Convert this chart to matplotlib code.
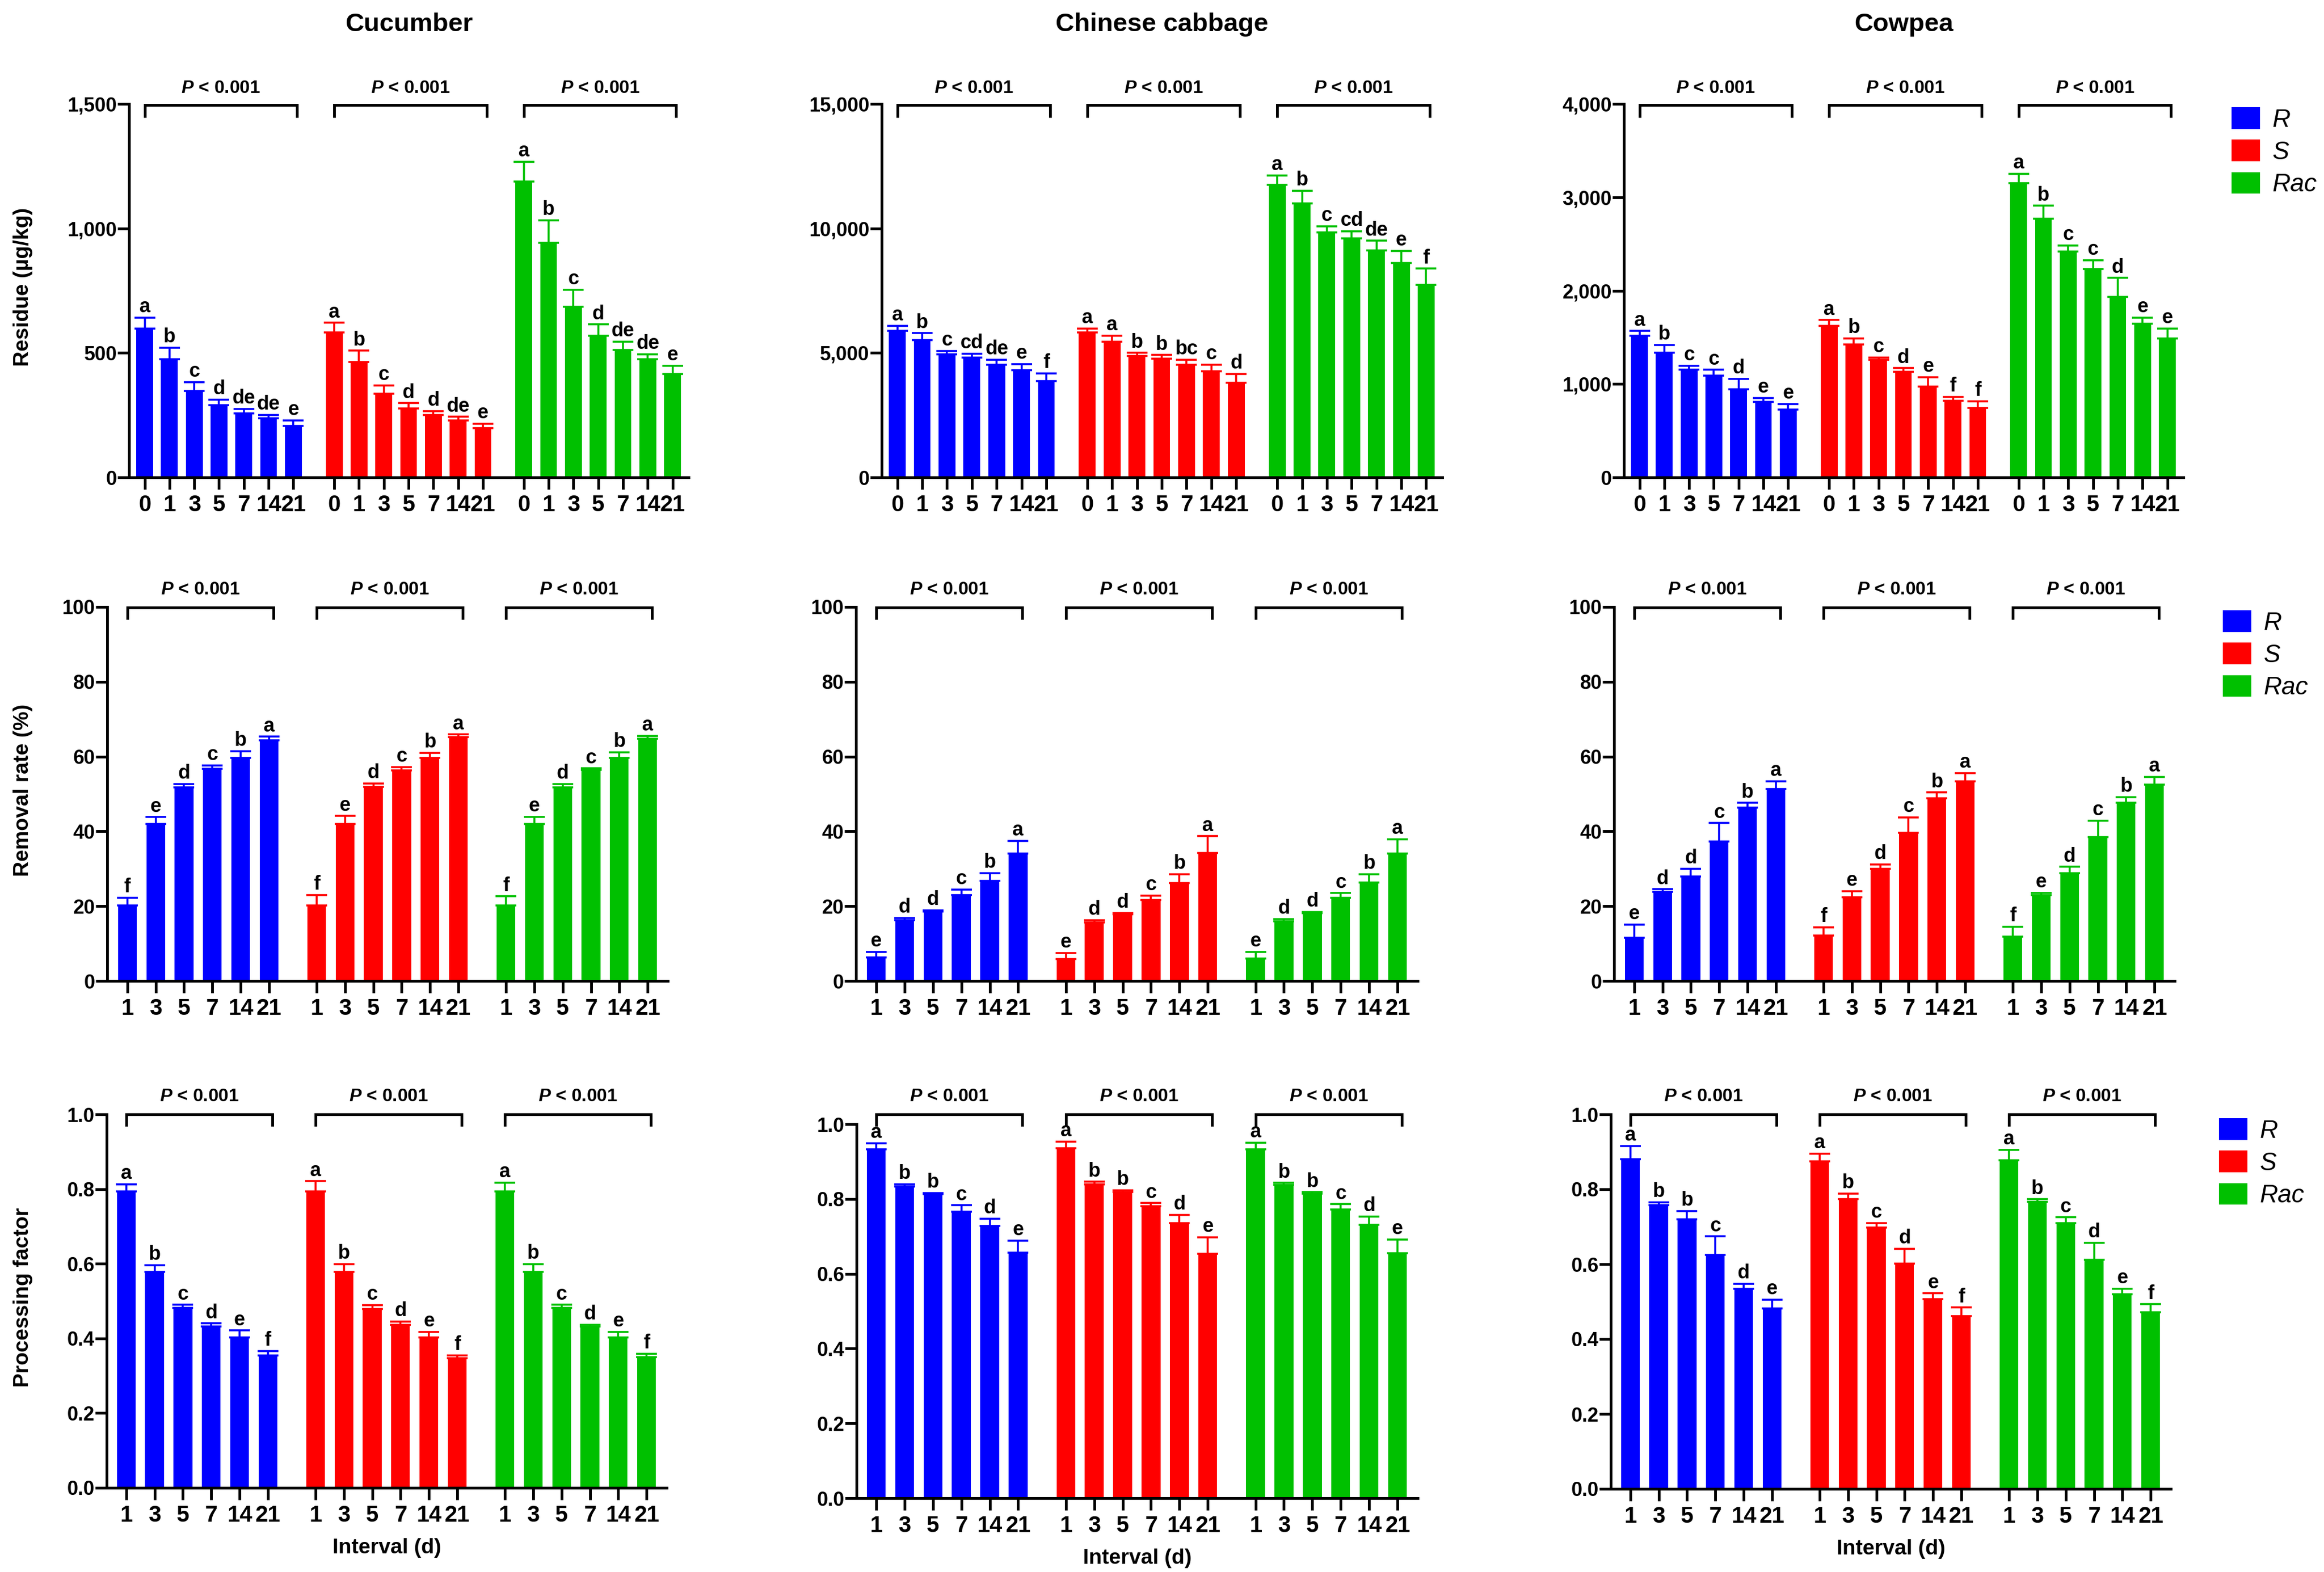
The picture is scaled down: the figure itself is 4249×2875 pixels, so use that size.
import numpy as np
import matplotlib
matplotlib.use('Agg')
import matplotlib.pyplot as plt
from matplotlib import font_manager as fm
import matplotlib.transforms as mtransforms
from matplotlib.ticker import FuncFormatter

# ---------------- data ----------------
isomers = ['R', 'S', 'Rac']
colors = ['#0000FF', '#FF0000', '#00C000']
days_residue = ['0', '1', '3', '5', '7', '14', '21']
days_interval = ['1', '3', '5', '7', '14', '21']
crops = ['Cucumber', 'Chinese cabbage', 'Cowpea']

# Residue (ug/kg)
cuc_res_mean = {'R': [598, 475, 346, 289, 257, 237, 207],
                'S': [581, 463, 335, 277, 250, 229, 198],
                'Rac': [1189, 943, 685, 569, 512, 475, 415]}
cuc_res_err = {'R': [43, 46, 37, 23, 18, 13, 22],
               'S': [40, 46, 35, 21, 16, 14, 17],
               'Rac': [78, 90, 68, 45, 33, 20, 33]}
cuc_res_let = {'R': ['a', 'b', 'c', 'd', 'de', 'de', 'e'],
               'S': ['a', 'b', 'c', 'd', 'd', 'de', 'e'],
               'Rac': ['a', 'b', 'c', 'd', 'de', 'de', 'e']}

cab_res_mean = {'R': [5890, 5520, 4950, 4810, 4520, 4300, 3860],
                'S': [5810, 5450, 4880, 4760, 4520, 4260, 3790],
                'Rac': [11760, 11010, 9840, 9600, 9110, 8620, 7740]}
cab_res_err = {'R': [200, 270, 130, 150, 200, 250, 320],
               'S': [170, 240, 120, 150, 200, 270, 360],
               'Rac': [370, 500, 240, 290, 390, 480, 640]}
cab_res_let = {'R': ['a', 'b', 'c', 'cd', 'de', 'e', 'f'],
               'S': ['a', 'a', 'b', 'b', 'bc', 'c', 'd'],
               'Rac': ['a', 'b', 'c', 'cd', 'de', 'e', 'f']}

cow_res_mean = {'R': [1518, 1337, 1152, 1092, 940, 809, 727],
                'S': [1624, 1426, 1259, 1131, 975, 819, 745],
                'Rac': [3149, 2773, 2418, 2234, 1933, 1645, 1489]}
cow_res_err = {'R': [50, 82, 43, 60, 113, 43, 60],
               'S': [60, 64, 25, 39, 99, 43, 71],
               'Rac': [103, 135, 64, 92, 202, 64, 106]}
cow_res_let = {'R': ['a', 'b', 'c', 'c', 'd', 'e', 'e'],
               'S': ['a', 'b', 'c', 'd', 'e', 'f', 'f'],
               'Rac': ['a', 'b', 'c', 'c', 'd', 'e', 'e']}

# Removal rate (%)
cuc_rem_mean = {'R': [20.2, 42.0, 51.7, 56.7, 59.6, 64.3],
                'S': [20.2, 42.0, 51.9, 56.3, 59.6, 65.2],
                'Rac': [20.2, 42.0, 51.7, 56.4, 59.6, 64.8]}
cuc_rem_err = {'R': [2.0, 1.8, 0.9, 0.9, 1.8, 1.0],
               'S': [2.8, 2.1, 0.9, 0.9, 1.4, 0.7],
               'Rac': [2.4, 1.9, 0.9, 0.4, 1.5, 0.7]}
cuc_rem_let = {'R': ['f', 'e', 'd', 'c', 'b', 'a'],
               'S': ['f', 'e', 'd', 'c', 'b', 'a'],
               'Rac': ['f', 'e', 'd', 'c', 'b', 'a']}

cab_rem_mean = {'R': [6.3, 16.2, 18.6, 22.9, 26.8, 34.1],
                'S': [5.8, 15.7, 17.9, 21.6, 26.1, 34.2],
                'Rac': [6.0, 15.9, 18.1, 22.2, 26.3, 34.1]}
cab_rem_err = {'R': [1.5, 0.6, 0.3, 1.5, 2.0, 3.4],
               'S': [1.7, 0.6, 0.3, 1.2, 2.4, 4.5],
               'Rac': [1.8, 0.6, 0.3, 1.3, 2.2, 3.8]}
cab_rem_let = {'R': ['e', 'd', 'd', 'c', 'b', 'a'],
               'S': ['e', 'd', 'd', 'c', 'b', 'a'],
               'Rac': ['e', 'd', 'd', 'c', 'b', 'a']}

cow_rem_mean = {'R': [11.6, 23.8, 27.9, 37.3, 46.3, 51.3],
                'S': [12.2, 22.3, 30.0, 39.6, 48.9, 53.4],
                'Rac': [11.8, 23.0, 28.8, 38.4, 47.6, 52.5]}
cow_rem_err = {'R': [3.5, 0.7, 2.1, 4.9, 1.3, 2.1],
               'S': [2.1, 1.7, 1.2, 4.1, 1.5, 2.2],
               'Rac': [2.7, 0.6, 1.7, 4.5, 1.5, 2.1]}
cow_rem_let = {'R': ['e', 'd', 'd', 'c', 'b', 'a'],
               'S': ['f', 'e', 'd', 'c', 'b', 'a'],
               'Rac': ['f', 'e', 'd', 'c', 'b', 'a']}

# Processing factor
cuc_pf_mean = {'R': [0.794, 0.578, 0.481, 0.432, 0.402, 0.355],
               'S': [0.794, 0.578, 0.479, 0.436, 0.402, 0.347],
               'Rac': [0.794, 0.578, 0.481, 0.432, 0.402, 0.350]}
cuc_pf_err = {'R': [0.019, 0.018, 0.009, 0.008, 0.019, 0.011],
              'S': [0.027, 0.021, 0.010, 0.009, 0.015, 0.008],
              'Rac': [0.023, 0.021, 0.009, 0.004, 0.016, 0.009]}
cuc_pf_let = {'R': ['a', 'b', 'c', 'd', 'e', 'f'],
              'S': ['a', 'b', 'c', 'd', 'e', 'f'],
              'Rac': ['a', 'b', 'c', 'd', 'e', 'f']}

cab_pf_mean = {'R': [0.933, 0.834, 0.813, 0.766, 0.728, 0.656],
               'S': [0.936, 0.839, 0.819, 0.780, 0.735, 0.653],
               'Rac': [0.933, 0.838, 0.815, 0.772, 0.731, 0.655]}
cab_pf_err = {'R': [0.016, 0.005, 0.003, 0.017, 0.019, 0.033],
              'S': [0.017, 0.007, 0.004, 0.009, 0.023, 0.045],
              'Rac': [0.017, 0.005, 0.003, 0.014, 0.022, 0.037]}
cab_pf_let = {'R': ['a', 'b', 'b', 'c', 'd', 'e'],
              'S': ['a', 'b', 'b', 'c', 'd', 'e'],
              'Rac': ['a', 'b', 'b', 'c', 'd', 'e']}

cow_pf_mean = {'R': [0.880, 0.758, 0.719, 0.625, 0.534, 0.482],
               'S': [0.874, 0.774, 0.698, 0.601, 0.507, 0.461],
               'Rac': [0.877, 0.766, 0.709, 0.611, 0.520, 0.471]}
cow_pf_err = {'R': [0.036, 0.007, 0.023, 0.049, 0.014, 0.023],
              'S': [0.021, 0.015, 0.012, 0.040, 0.015, 0.023],
              'Rac': [0.028, 0.007, 0.016, 0.046, 0.014, 0.022]}
cow_pf_let = {'R': ['a', 'b', 'b', 'c', 'd', 'e'],
              'S': ['a', 'b', 'c', 'd', 'e', 'f'],
              'Rac': ['a', 'b', 'c', 'd', 'e', 'f']}

residue_ticks = {'Cucumber': [0, 500, 1000, 1500],
                 'Chinese cabbage': [0, 5000, 10000, 15000],
                 'Cowpea': [0, 1000, 2000, 3000, 4000]}
removal_ticks = [0, 20, 40, 60, 80, 100]
pf_ticks = [0.0, 0.2, 0.4, 0.6, 0.8, 1.0]

# ---------------- fonts ----------------
names = {f.name for f in fm.fontManager.ttflist}
MAIN = 'Liberation Sans' if 'Liberation Sans' in names else 'DejaVu Sans'
NARROW = 'Liberation Sans Narrow' if 'Liberation Sans Narrow' in names else MAIN
plt.rcParams['font.family'] = [MAIN, 'DejaVu Sans']
plt.rcParams['font.weight'] = 'bold'
plt.rcParams['mathtext.fontset'] = 'custom'
plt.rcParams['mathtext.it'] = MAIN + ':italic:bold'
plt.rcParams['mathtext.rm'] = MAIN + ':bold'
plt.rcParams['mathtext.bf'] = MAIN + ':bold'

# ---------------- layout ----------------
W, H, DPI = 4249, 2875, 100
fig = plt.figure(figsize=(W / DPI, H / DPI), dpi=DPI)
fig.patch.set_facecolor('white')

axes_px = {
    (0, 0): (236, 190, 1259, 873), (0, 1): (1612, 190, 2637, 873), (0, 2): (2969, 190, 3992, 873),
    (1, 0): (196, 1110, 1221, 1794), (1, 1): (1565, 1110, 2592, 1794), (1, 2): (2951, 1110, 3976, 1794),
    (2, 0): (195, 2038, 1219, 2721), (2, 1): (1566, 2056, 2592, 2740), (2, 2): (2945, 2038, 3969, 2723),
}
bracket_px = {0: (192, 215, 162), 1: (1111, 1133, 1079), 2: (2038, 2060, 2006)}
legend_px = {0: (4080, 196), 1: (4064, 1116), 2: (4057, 2045)}

panels = {
    (0, 0): (cuc_res_mean, cuc_res_err, cuc_res_let),
    (0, 1): (cab_res_mean, cab_res_err, cab_res_let),
    (0, 2): (cow_res_mean, cow_res_err, cow_res_let),
    (1, 0): (cuc_rem_mean, cuc_rem_err, cuc_rem_let),
    (1, 1): (cab_rem_mean, cab_rem_err, cab_rem_let),
    (1, 2): (cow_rem_mean, cow_rem_err, cow_rem_let),
    (2, 0): (cuc_pf_mean, cuc_pf_err, cuc_pf_let),
    (2, 1): (cab_pf_mean, cab_pf_err, cab_pf_let),
    (2, 2): (cow_pf_mean, cow_pf_err, cow_pf_let),
}
ylabels = ['Residue (\u00b5g/kg)', 'Removal rate (%)', 'Processing factor']

LW = 3.6
for (r, c), (means, errs, lets) in panels.items():
    x0p, y0p, x1p, y1p = axes_px[(r, c)]
    ax = fig.add_axes([x0p / W, 1 - y1p / H, (x1p - x0p) / W, (y1p - y0p) / H])
    if r == 0:
        cats = days_residue
        goff, xlim, bw = 7.65, (-0.63, 21.95), 0.68
        ticks = residue_ticks[crops[c]]
        fmt = FuncFormatter(lambda v, p: f'{v:,.0f}')
    elif r == 1:
        cats = days_interval
        goff, xlim, bw = 6.68, (-0.71, 19.07), 0.66
        ticks = removal_ticks
        fmt = FuncFormatter(lambda v, p: f'{v:.0f}')
    else:
        cats = days_interval
        goff, xlim, bw = 6.68, (-0.69, 19.07), 0.66
        ticks = pf_ticks
        fmt = FuncFormatter(lambda v, p: f'{v:.1f}')
    n = len(cats)
    handles = []
    allx = []
    trans = mtransforms.blended_transform_factory(ax.transData, fig.transFigure)
    yb, yd, yp = bracket_px[r]
    for g, iso in enumerate(isomers):
        x = np.arange(n) + g * goff
        m = np.array(means[iso], dtype=float)
        e = np.array(errs[iso], dtype=float)
        bc = ax.bar(x, m, bw, color=colors[g], linewidth=0, zorder=2,
                    yerr=[np.zeros(n), e],
                    error_kw=dict(ecolor=colors[g], elinewidth=2.6, capsize=14, capthick=2.6, zorder=3))
        handles.append(bc)
        allx.extend(x)
        for xi, mi, ei, lt in zip(x, m, e, lets[iso]):
            ax.annotate(lt, (xi, mi + ei), xytext=(0, 7), textcoords='offset points',
                        ha='center', va='baseline', fontsize=26, fontweight='bold',
                        fontfamily=[NARROW, 'DejaVu Sans'])
        # significance bracket
        bx0, bx1 = x[0], x[-1] + 0.15
        ax.plot([bx0, bx0, bx1, bx1], [1 - yd / H, 1 - yb / H, 1 - yb / H, 1 - yd / H],
                transform=trans, color='black', lw=LW, clip_on=False,
                solid_joinstyle='miter', solid_capstyle='butt')
        ax.text((bx0 + bx1) / 2, 1 - yp / H, r'$\mathit{P}$ < 0.001', transform=trans,
                ha='center', va='center', fontsize=24, fontweight='bold')

    ax.set_xlim(*xlim)
    ax.set_ylim(ticks[0], ticks[-1])
    ax.set_yticks(ticks)
    ax.yaxis.set_major_formatter(fmt)
    ax.set_xticks(allx)
    ax.set_xticklabels(cats * 3, fontsize=30, fontweight='bold', fontfamily=[NARROW, 'DejaVu Sans'])
    for lab in ax.get_yticklabels():
        lab.set_fontsize(26)
        lab.set_fontweight('bold')
    for s in ['top', 'right']:
        ax.spines[s].set_visible(False)
    for s in ['left', 'bottom']:
        ax.spines[s].set_linewidth(LW)
    ax.tick_params(axis='y', direction='out', length=15, width=LW, pad=1)
    ax.tick_params(axis='x', direction='out', length=16, width=LW, pad=6)

    h_px = y1p - y0p
    if c == 0:
        ax.set_ylabel(ylabels[r], fontsize=28, fontweight='bold', va='center')
        ax.yaxis.set_label_coords((42 - x0p) / (x1p - x0p), 0.51)
    if r == 2:
        ax.set_xlabel('Interval (d)', fontsize=28, fontweight='bold', va='center')
        ax.xaxis.set_label_coords(0.5, -110 / h_px)
    if r == 0:
        ax.text(0.5, 1 + (y0p - 45) / h_px, crops[c], transform=ax.transAxes,
                ha='center', va='center', fontsize=34, fontweight='bold')
    if c == 2:
        lx, ly = legend_px[r]
        ax.legend(handles, isomers, loc='upper left', bbox_to_anchor=(lx / W, 1 - ly / H),
                  bbox_transform=fig.transFigure, frameon=False,
                  prop=dict(family=MAIN, style='italic', weight='normal', size=33),
                  handlelength=1.13, handleheight=0.95, handletextpad=0.5,
                  labelspacing=0.3, borderpad=0, borderaxespad=0)

fig.savefig('out.png', dpi=DPI, facecolor='white')
